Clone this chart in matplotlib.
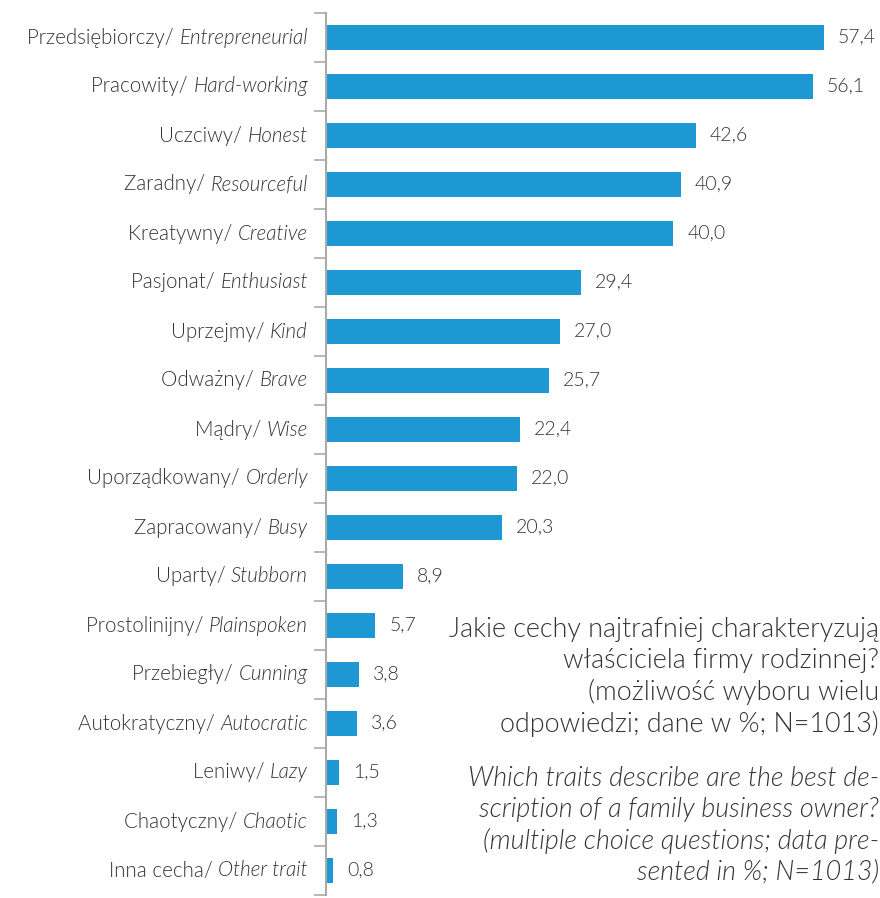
import matplotlib.pyplot as plt
import numpy as np

plt.rcParams['font.family'] = ['Lato', 'DejaVu Sans']

labels_pl = ['Przedsiębiorczy/', 'Pracowity/', 'Uczciwy/', 'Zaradny/', 'Kreatywny/',
             'Pasjonat/', 'Uprzejmy/', 'Odważny/', 'Mądry/', 'Uporządkowany/',
             'Zapracowany/', 'Uparty/', 'Prostolinijny/', 'Przebiegły/',
             'Autokratyczny/', 'Leniwy/', 'Chaotyczny/', 'Inna cecha/']
labels_en = ['Entrepreneurial', 'Hard-working', 'Honest', 'Resourceful', 'Creative',
             'Enthusiast', 'Kind', 'Brave', 'Wise', 'Orderly', 'Busy', 'Stubborn',
             'Plainspoken', 'Cunning', 'Autocratic', 'Lazy', 'Chaotic', 'Other trait']
values = [57.4, 56.1, 42.6, 40.9, 40.0, 29.4, 27.0, 25.7, 22.4, 22.0, 20.3,
          8.9, 5.7, 3.8, 3.6, 1.5, 1.3, 0.8]

title_pl = ['Jakie cechy najtrafniej charakteryzują', 'właściciela firmy rodzinnej?',
            '(możliwość wyboru wielu', 'odpowiedzi; dane w %; N=1013)']
title_en = ['Which traits describe are the best de-', 'scription of a family business owner?',
            '(multiple choice questions; data pre-', 'sented in %; N=1013)']

blue = '#1e98d3'
txt = '#333333'
W = 300  # Lato Light

fig = plt.figure(figsize=(8.8, 8.98), dpi=100)
ax = fig.add_axes([326 / 880, 3 / 898, 554 / 880, 882 / 898])

y = np.arange(len(values))
ax.barh(y, values, height=0.5, color=blue)
ax.set_ylim(len(values) - 0.5, -0.5)
ax.set_xlim(0, 554 / 8.68)

for i, v in enumerate(values):
    ax.annotate(f'{v:.1f}'.replace('.', ','), xy=(v, i), xytext=(10, 0),
                textcoords='offset points', va='center', ha='left',
                fontsize=14, color=txt, fontweight=W)

# category labels: Polish upright, English italic
for i, (p, e) in enumerate(zip(labels_pl, labels_en)):
    t = ax.annotate(e, xy=(0, i), xycoords=('axes fraction', 'data'),
                    xytext=(-13, 0), textcoords='offset points',
                    ha='right', va='center', fontsize=14.8, color=txt,
                    style='italic', fontweight=W)
    ax.annotate(p + ' ', xy=(0, 0), xycoords=t, ha='right', va='bottom',
                fontsize=14.8, color=txt, fontweight=W)

ax.set_yticks(np.arange(len(values) + 1) - 0.5)
ax.set_yticklabels([])
ax.tick_params(axis='y', length=9, color='#aaaaaa', width=1.2)
ax.set_xticks([])
for s in ['top', 'right', 'bottom']:
    ax.spines[s].set_visible(False)
ax.spines['left'].set_color('#aaaaaa')
ax.spines['left'].set_linewidth(1.5)

fig.text(879 / 880, 1 - 617 / 898, '\n'.join(title_pl), ha='right', va='top',
         fontsize=19.4, color=txt, fontweight=W, linespacing=1.28)
fig.text(879 / 880, 1 - 766 / 898, '\n'.join(title_en), ha='right', va='top',
         fontsize=19.4, color=txt, fontweight=W, style='italic', linespacing=1.28)

fig.savefig('out.png', dpi=100)
